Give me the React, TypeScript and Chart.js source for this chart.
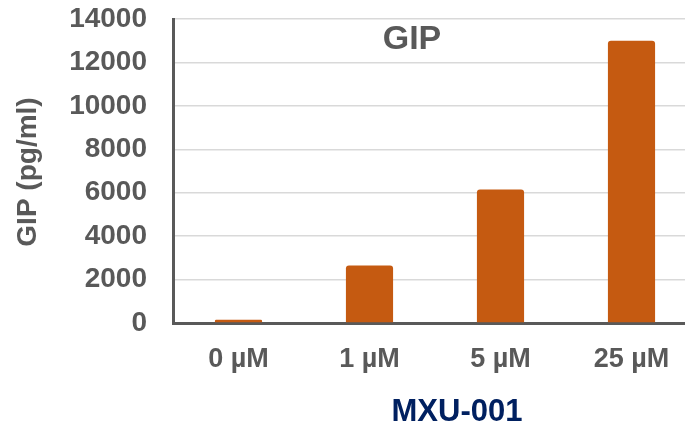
import React, { useEffect, useRef } from "react";
import { Chart, registerables } from "chart.js";

Chart.register(...registerables);

const categories = ["0 µM", "1 µM", "5 µM", "25 µM"];
const gipValues = [150, 2650, 6150, 13000];
const yTicks = [0, 2000, 4000, 6000, 8000, 10000, 12000, 14000];
const chartTitle = "GIP";
const yTitle = "GIP (pg/ml)";
const xTitle = "MXU-001";

const FONT = "'Liberation Sans', Arial, sans-serif";
const GRAY = "#595959";

const textPlugin = {
  id: "texts",
  afterDraw(chart: any) {
    const ctx = chart.ctx;
    const a = chart.chartArea;
    ctx.save();
    ctx.fillStyle = GRAY;
    ctx.textAlign = "center";
    ctx.textBaseline = "middle";
    ctx.font = `bold 34px ${FONT}`;
    ctx.fillText(chartTitle, 412, a.top + 21);
    ctx.fillStyle = "#002060";
    ctx.font = `bold 31px ${FONT}`;
    ctx.fillText(xTitle, 457, 412);
    ctx.fillStyle = GRAY;
    ctx.font = `bold 28px ${FONT}`;
    ctx.translate(28, 172);
    ctx.rotate(-Math.PI / 2);
    ctx.fillText(yTitle, 0, 0);
    ctx.restore();
  },
};

export default function App() {
  const ref = useRef<HTMLCanvasElement | null>(null);
  useEffect(() => {
    if (!ref.current) return;
    const chart = new Chart(ref.current, {
      type: "bar",
      data: {
        labels: categories,
        datasets: [
          {
            data: gipValues,
            backgroundColor: "#C55A11",
            borderRadius: 3,
            borderSkipped: "bottom",
            categoryPercentage: 1,
            barPercentage: 0.36,
          },
        ],
      },
      options: {
        responsive: false,
        animation: false,
        layout: { padding: { top: 19, left: 0, right: 0, bottom: 0 } },
        plugins: { legend: { display: false }, tooltip: { enabled: false } },
        scales: {
          x: {
            grid: { display: false, drawTicks: false },
            border: { color: GRAY, width: 3 },
            ticks: {
              color: GRAY,
              font: { family: FONT, size: 27, weight: "bold" },
              padding: 20,
            },
            afterFit(s: any) {
              s.height = 108;
              s.paddingLeft = 0;
              s.paddingRight = 0;
            },
          },
          y: {
            min: 0,
            max: 14000,
            afterBuildTicks(s: any) {
              s.ticks = yTicks.map((v) => ({ value: v }));
            },
            grid: { color: "#d9d9d9", lineWidth: 1.5, drawTicks: false },
            border: { color: GRAY, width: 3 },
            ticks: {
              color: GRAY,
              font: { family: FONT, size: 28, weight: "bold" },
              padding: 26,
              callback: (v: any) => String(v),
            },
            afterFit(s: any) {
              s.width = 173;
              s.paddingTop = 0;
              s.paddingBottom = 0;
            },
          },
        },
      },
      plugins: [textPlugin],
    });
    return () => chart.destroy();
  }, []);
  return (
    <div
      style={{
        position: "absolute",
        left: 0,
        top: 0,
        width: 685,
        height: 431,
        overflow: "hidden",
        background: "#fff",
      }}
    >
      <canvas ref={ref} width={697} height={431} style={{ display: "block" }} />
    </div>
  );
}
